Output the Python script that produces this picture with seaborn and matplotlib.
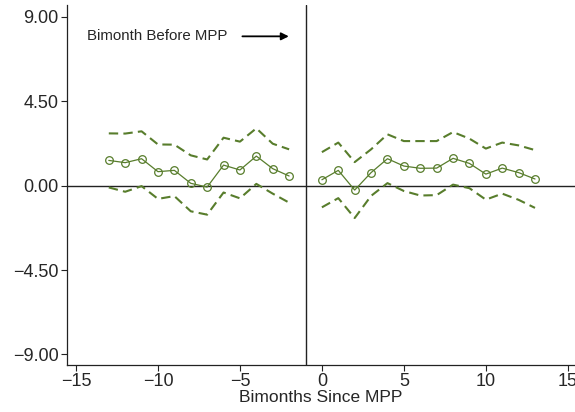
import matplotlib
matplotlib.use("Agg")
import matplotlib.pyplot as plt
import seaborn as sns
import pandas as pd

sns.set_style("ticks")
plt.rcParams['font.family'] = ['Liberation Sans', 'DejaVu Sans']

# Pre-period (bimonths before MPP)
x_pre = [-13, -12, -11, -10, -9, -8, -7, -6, -5, -4, -3, -2]
est_pre = [1.34, 1.22, 1.43, 0.74, 0.81, 0.12, -0.08, 1.09, 0.83, 1.57, 0.90, 0.51]
hi_pre = [2.78, 2.77, 2.89, 2.19, 2.18, 1.61, 1.39, 2.55, 2.34, 3.05, 2.23, 1.93]
lo_pre = [-0.10, -0.33, -0.03, -0.71, -0.56, -1.37, -1.55, -0.37, -0.68, 0.09, -0.43, -0.91]

# Post-period
x_post = [0, 1, 2, 3, 4, 5, 6, 7, 8, 9, 10, 11, 12, 13]
est_post = [0.31, 0.81, -0.24, 0.69, 1.43, 1.04, 0.92, 0.93, 1.45, 1.18, 0.61, 0.93, 0.69, 0.35]
hi_post = [1.78, 2.29, 1.25, 1.93, 2.73, 2.37, 2.37, 2.37, 2.85, 2.50, 1.97, 2.29, 2.14, 1.89]
lo_post = [-1.16, -0.67, -1.73, -0.55, 0.13, -0.29, -0.53, -0.51, 0.05, -0.14, -0.75, -0.43, -0.76, -1.19]

x_ticks = [-15, -10, -5, 0, 5, 10, 15]
y_ticks = [-9.0, -4.5, 0.0, 4.5, 9.0]
y_ticklabels = ["\u22129.00", "\u22124.50", "0.00", "4.50", "9.00"]
x_ticklabels = ["\u221215", "\u221210", "\u22125", "0", "5", "10", "15"]

green = "#587d2c"

fig = plt.figure(figsize=(5.75, 4.12), dpi=100)
ax = fig.add_axes([67/575, 47/412, 1 - 67/575, (365 - 5)/412])

for xs, est, hi, lo in [(x_pre, est_pre, hi_pre, lo_pre), (x_post, est_post, hi_post, lo_post)]:
    df = pd.DataFrame({"x": xs, "est": est, "hi": hi, "lo": lo})
    sns.lineplot(data=df, x="x", y="hi", ax=ax, color=green, lw=1.5,
                 linestyle=(0, (4.5, 2.5)))
    sns.lineplot(data=df, x="x", y="lo", ax=ax, color=green, lw=1.5,
                 linestyle=(0, (4.5, 2.5)))
    sns.lineplot(data=df, x="x", y="est", ax=ax, color=green, lw=0.9,
                 marker="o", markersize=5.5, markerfacecolor="none",
                 markeredgecolor=green, markeredgewidth=0.9)

ax.axhline(0, color="#222222", lw=1.0, zorder=0)
ax.axvline(-1, color="#222222", lw=1.0, zorder=0)

ax.set_xlim(-15.55, 15.44)
ax.set_ylim(-9.56, 9.62)
ax.set_xticks(x_ticks)
ax.set_xticklabels(x_ticklabels, fontsize=13)
ax.set_yticks(y_ticks)
ax.set_yticklabels(y_ticklabels, fontsize=13)
ax.tick_params(axis="both", length=4.5, width=0.8, color="#222222", pad=1.5)
ax.set_xlabel("Bimonths Since MPP", fontsize=12.5, labelpad=0)
ax.set_ylabel("")
for s in ["top", "right"]:
    ax.spines[s].set_visible(False)
for s in ["left", "bottom"]:
    ax.spines[s].set_color("#222222")
    ax.spines[s].set_linewidth(0.9)

ax.text(-14.31, 7.95, "Bimonth Before MPP", fontsize=10.8, va="center", ha="left")
ax.annotate("", xy=(-1.85, 7.95), xytext=(-5.02, 7.95),
            arrowprops=dict(arrowstyle="-|>", color="black", lw=1.3,
                            mutation_scale=11))

fig.savefig("out.png", dpi=100)
